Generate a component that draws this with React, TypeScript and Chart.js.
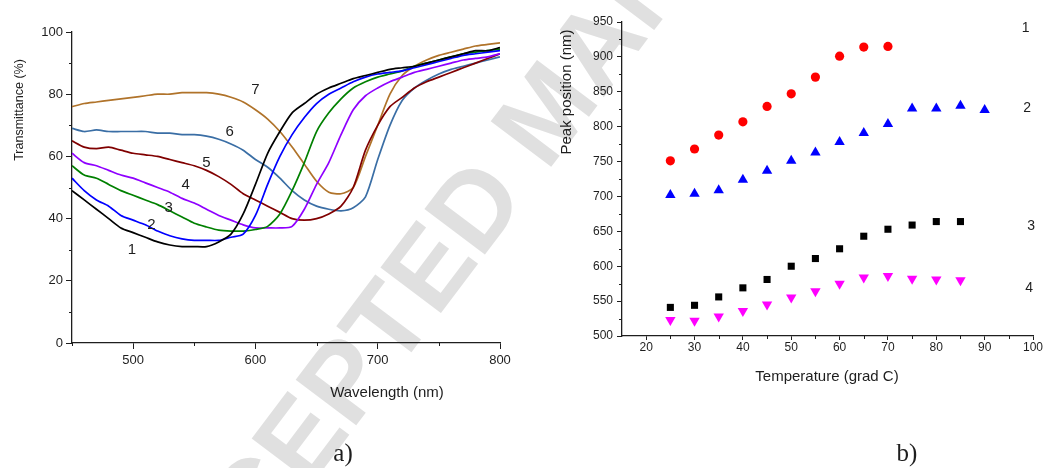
import React, { useEffect, useRef } from "react";
import { Chart, registerables } from "chart.js";

Chart.register(...registerables);

// ---------- data: panel a) ----------
const wavelengths = [450, 460, 470, 480, 490, 500, 510, 520, 530, 540, 550, 560, 570, 580, 590, 600, 610, 620, 630, 640, 650, 660, 670, 680, 690, 700, 710, 720, 730, 740, 750, 760, 770, 780, 790, 800];
const curve1 = [49, 46, 43, 40, 37, 35.5, 34, 32.5, 31.5, 31, 31, 31, 32.5, 35, 41.5, 51, 61, 68, 74, 77, 80, 82, 83.5, 85, 86, 87, 88, 88.5, 89, 90, 91, 92, 93, 94, 94, 95];
const curve2 = [53, 49, 46, 44, 41, 39.5, 38, 36, 34.5, 33.5, 33, 33, 33, 34, 35, 41, 51, 60, 67, 72.5, 77, 80, 82, 84, 85.5, 86.5, 87, 87.5, 88.5, 89.5, 90.5, 91.5, 92.5, 93, 93.5, 94];
const curve3 = [57, 54, 53, 51, 49, 47.5, 46, 44.5, 42.5, 40.5, 38.5, 37.3, 36.3, 36, 36, 36.5, 37.5, 41.5, 49, 58, 68, 74, 78.5, 82, 84, 85.5, 86.5, 87.5, 89, 90, 91, 92, 93, 93.5, 94, 94.5];
const curve4 = [61, 58, 57, 55.5, 54, 53, 51.5, 50, 48.5, 46.5, 45, 43, 41, 39.5, 38, 37, 37, 37, 37.5, 43, 51, 58, 67, 75, 79.5, 82, 84, 85.5, 87, 88, 89, 90, 91, 91.5, 92, 93];
const curve5 = [65, 63, 62.5, 63, 62, 61, 60.5, 60, 59, 58, 57, 55.5, 53.5, 51, 48, 46, 44, 42, 40, 39.5, 40, 41.5, 44, 50, 62, 70, 76, 79, 82, 84, 85.5, 87, 88.5, 90, 91.5, 93];
const curve6 = [69, 68, 68.5, 68, 68, 68, 68, 67.5, 67.5, 67, 67, 66.5, 65.5, 64, 62, 59, 56.5, 53, 49, 46, 44, 43, 42.5, 43.5, 47, 59, 70, 78, 82, 84.5, 86.5, 88, 89, 90, 91, 92];
const curve7 = [76, 77, 77.5, 78, 78.5, 79, 79.5, 80, 80, 80.5, 80.5, 80.5, 80, 79, 77.5, 75, 72, 68, 63, 57.5, 52, 48.5, 48, 50, 60, 70, 80, 86, 89, 91, 92.5, 93.5, 94.5, 95.5, 96, 96.5];
const curveNames = ["1", "2", "3", "4", "5", "6", "7"];
const curveLabelWl = [499, 515, 529, 543, 560, 579, 600];
const curveLabelT = [30, 38, 43.5, 51, 58, 68, 81.5];
const xTicksA = [500, 600, 700, 800];
const xMinorA = [450, 550, 650, 750];
const yTicksA = [0, 20, 40, 60, 80, 100];
const yMinorA = [10, 30, 50, 70, 90];

// ---------- data: panel b) ----------
const temps1 = [25, 30, 35, 40, 45, 50, 55, 60, 65, 70];
const peaks1 = [751, 768, 788, 807, 829, 847, 871, 901, 914, 915];
const temps2 = [25, 30, 35, 40, 45, 50, 55, 60, 65, 70, 75, 80, 85, 90];
const peaks2 = [702, 704, 709, 724, 737, 751, 763, 778, 791, 804, 826, 826, 830, 824];
const temps3 = [25, 30, 35, 40, 45, 50, 55, 60, 65, 70, 75, 80, 85];
const peaks3 = [541, 544, 556, 569, 581, 600, 611, 625, 643, 653, 659, 664, 664];
const temps4 = [25, 30, 35, 40, 45, 50, 55, 60, 65, 70, 75, 80, 85];
const peaks4 = [523, 522, 528, 536, 545, 555, 564, 575, 584, 586, 582, 581, 580];
const seriesNamesB = ["1", "2", "3", "4"];
const seriesLabelX = [98.5, 98.8, 99.6, 99.2];
const seriesLabelY = [941, 827, 658, 569];
const xTicksB = [20, 30, 40, 50, 60, 70, 80, 90, 100];
const xMinorB = [25, 35, 45, 55, 65, 75, 85, 95];
const yTicksB = [500, 550, 600, 650, 700, 750, 800, 850, 900, 950];
const yMinorB = [525, 575, 625, 675, 725, 775, 825, 875, 925];

const SANS = '"Liberation Sans", Arial, Helvetica, sans-serif';
const SERIF = '"Liberation Serif", "Times New Roman", serif';
const INK = "#1e1e1e";

function drawMinor(chart: any, xMinor: number[], yMinor: number[], len: number) {
  const ctx = chart.ctx;
  const xs = chart.scales.x;
  const ys = chart.scales.y;
  const a = chart.chartArea;
  ctx.save();
  ctx.strokeStyle = INK;
  ctx.lineWidth = 1;
  ctx.beginPath();
  xMinor.forEach((v) => {
    const px = Math.round(xs.getPixelForValue(v)) + 0.5;
    ctx.moveTo(px, a.bottom);
    ctx.lineTo(px, a.bottom + len);
  });
  yMinor.forEach((v) => {
    const py = Math.round(ys.getPixelForValue(v)) + 0.5;
    ctx.moveTo(a.left, py);
    ctx.lineTo(a.left - len, py);
  });
  ctx.stroke();
  ctx.restore();
}

function text(ctx: any, s: string, x: number, y: number, font: string, rot = 0) {
  ctx.save();
  ctx.translate(x, y);
  if (rot) ctx.rotate(rot);
  ctx.font = font;
  ctx.fillStyle = INK;
  ctx.textAlign = "center";
  ctx.textBaseline = "middle";
  ctx.fillText(s, 0, 0);
  ctx.restore();
}

const decorA = {
  id: "decorA",
  beforeDraw(chart: any) {
    const ctx = chart.ctx;
    ctx.save();
    ctx.translate(140, 662);
    ctx.rotate((-53 * Math.PI) / 180);
    ctx.font = `bold 110px ${SANS}`;
    ctx.fillStyle = "#e0e0e0";
    ctx.textAlign = "left";
    ctx.textBaseline = "middle";
    ctx.fillText("ACCEPTED MANUSCRIPT", 0, 0);
    ctx.restore();
  },
  afterDraw(chart: any) {
    const ctx = chart.ctx;
    drawMinor(chart, xMinorA, yMinorA, 3);
    const xs = chart.scales.x;
    const ys = chart.scales.y;
    curveNames.forEach((n, i) => {
      text(ctx, n, xs.getPixelForValue(curveLabelWl[i]), ys.getPixelForValue(curveLabelT[i]), `15px ${SANS}`);
    });
    text(ctx, "Transmittance (%)", 20, 110, `12.5px ${SANS}`, -Math.PI / 2);
    text(ctx, "Wavelength (nm)", 387, 393, `15px ${SANS}`);
    text(ctx, "a)", 343, 454, `25px ${SERIF}`);
  },
};

const decorB = {
  id: "decorB",
  afterDraw(chart: any) {
    const ctx = chart.ctx;
    drawMinor(chart, xMinorB, yMinorB, 3);
    const xs = chart.scales.x;
    const ys = chart.scales.y;
    seriesNamesB.forEach((n, i) => {
      text(ctx, n, xs.getPixelForValue(seriesLabelX[i]), ys.getPixelForValue(seriesLabelY[i]), `14px ${SANS}`);
    });
    text(ctx, "Peak position (nm)", 567, 92, `15px ${SANS}`, -Math.PI / 2);
    text(ctx, "Temperature (grad C)", 827, 377, `15px ${SANS}`);
    text(ctx, "b)", 907, 454, `25px ${SERIF}`);
  },
};

function axis(min: number, max: number, ticks: number[], fontSize: number, tickLen: number, pad: number, fit: (s: any) => void) {
  return {
    type: "linear" as const,
    min,
    max,
    afterBuildTicks: (s: any) => {
      s.ticks = ticks.map((v) => ({ value: v }));
    },
    afterFit: fit,
    grid: {
      display: true,
      drawOnChartArea: false,
      drawTicks: true,
      tickLength: tickLen,
      tickColor: INK,
      tickWidth: 1,
    },
    border: { display: true, color: INK, width: 1.3 },
    ticks: {
      autoSkip: false,
      maxRotation: 0,
      padding: pad,
      color: INK,
      font: { size: fontSize, family: SANS },
    },
  };
}

export default function App() {
  const refA = useRef<HTMLCanvasElement>(null);
  const refB = useRef<HTMLCanvasElement>(null);

  useEffect(() => {
    document.body.style.margin = "0";
    Chart.defaults.font.family = SANS;
    const curves = [curve1, curve2, curve3, curve4, curve5, curve6, curve7];
    const colors = ["#000000", "#0000ff", "#008000", "#8f00ff", "#800000", "#3a6ea5", "#b0732a"];
    const chartA = new Chart(refA.current as HTMLCanvasElement, {
      type: "line",
      data: {
        datasets: curves.map((c, i) => ({
          label: curveNames[i],
          data: wavelengths.map((w, j) => ({ x: w, y: c[j] })),
          borderColor: colors[i],
          borderWidth: 1.7,
          pointRadius: 0,
          tension: 0.25,
          fill: false,
        })),
      },
      options: {
        responsive: false,
        animation: false,
        parsing: false,
        layout: { padding: { left: 0, right: 552, top: 32, bottom: 0 } },
        plugins: { legend: { display: false }, tooltip: { enabled: false } },
        scales: {
          x: axis(450, 800, xTicksA, 13, 6, 4, (s: any) => { s.height = 125; }),
          y: axis(0, 100, yTicksA, 13, 6, 3, (s: any) => { s.width = 72; }),
        },
      },
      plugins: [decorA],
    } as any);

    const mk = (xs: number[], ys: number[]) => xs.map((x, i) => ({ x, y: ys[i] }));
    const chartB = new Chart(refB.current as HTMLCanvasElement, {
      type: "scatter",
      data: {
        datasets: [
          { label: "1", data: mk(temps1, peaks1), pointStyle: "circle", pointRadius: 4.6, backgroundColor: "#ff0000", borderColor: "#ff0000", borderWidth: 0 },
          { label: "2", data: mk(temps2, peaks2), pointStyle: "triangle", pointRadius: 6, backgroundColor: "#0000ff", borderColor: "#0000ff", borderWidth: 0 },
          { label: "3", data: mk(temps3, peaks3), pointStyle: "rect", pointRadius: 5, backgroundColor: "#000000", borderColor: "#000000", borderWidth: 0 },
          { label: "4", data: mk(temps4, peaks4), pointStyle: "triangle", rotation: 180, pointRadius: 6, backgroundColor: "#ff00ff", borderColor: "#ff00ff", borderWidth: 0 },
        ],
      },
      options: {
        responsive: false,
        animation: false,
        layout: { padding: { left: 520, right: 19, top: 22, bottom: 0 } },
        plugins: { legend: { display: false }, tooltip: { enabled: false } },
        scales: {
          x: axis(15, 100, xTicksB, 12, 4, 0, (s: any) => { s.height = 132; }),
          y: axis(500, 950, yTicksB, 12, 5, 4, (s: any) => { s.width = 102; }),
        },
      },
      plugins: [decorB],
    } as any);

    return () => {
      chartA.destroy();
      chartB.destroy();
    };
  }, []);

  return (
    <div style={{ position: "fixed", left: 0, top: 0, width: 1052, height: 468, background: "#ffffff", overflow: "hidden" }}>
      <canvas ref={refA} width={1052} height={468} style={{ position: "absolute", left: 0, top: 0, width: 1052, height: 468 }} />
      <canvas ref={refB} width={1052} height={468} style={{ position: "absolute", left: 0, top: 0, width: 1052, height: 468 }} />
    </div>
  );
}
